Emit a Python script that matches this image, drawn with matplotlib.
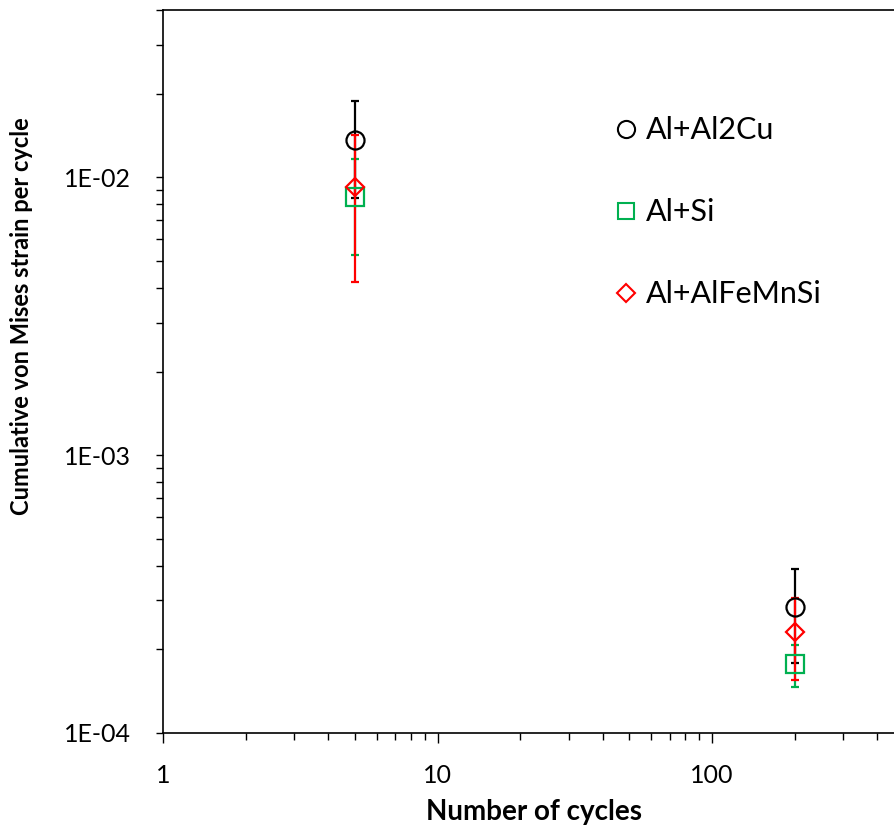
import matplotlib
matplotlib.use("Agg")
import matplotlib.pyplot as plt
from matplotlib.lines import Line2D
from matplotlib.ticker import LogLocator, NullFormatter, FixedLocator, FixedFormatter

plt.rcParams['font.family'] = ['Lato', 'DejaVu Sans']

# data
cycles = [5, 200]
labels = ['Al+Al2Cu', 'Al+Si', 'Al+AlFeMnSi']
al2cu = [0.0136, 0.000284]
al2cu_err = [0.0052, 0.000105]
alsi = [0.00847, 0.000177]
alsi_err = [0.0032, 0.000030]
alfemnsi = [0.0092, 0.000231]
alfemnsi_err = [0.0050, 0.000076]

colors = ['black', '#00B050', '#FF0000']
markers = ['o', 's', 'D']
sizes = [13, 12.5, 9.5]

fig = plt.figure(figsize=(8.94, 8.34), dpi=100)
ax = fig.add_axes([163 / 894, 101 / 834, 731 / 894, 723 / 834])

series = [(al2cu, al2cu_err), (alsi, alsi_err), (alfemnsi, alfemnsi_err)]
for (vals, errs), c, m, s in zip(series, colors, markers, sizes):
    ax.errorbar(cycles, vals, yerr=errs, fmt=m, color=c, ecolor=c,
                mfc='none', mec=c, ms=s, mew=1.6, elinewidth=1.6,
                capsize=3, capthick=1.6)

ax.set_xscale('log')
ax.set_yscale('log')
ax.set_xlim(1, 460)
ax.set_ylim(1e-4, 0.04)

ax.spines['right'].set_visible(False)
for sp in ['left', 'bottom', 'top']:
    ax.spines[sp].set_linewidth(1.2)

ax.yaxis.set_major_locator(FixedLocator([1e-4, 1e-3, 1e-2]))
ax.yaxis.set_major_formatter(FixedFormatter(['1E-04', '1E-03', '1E-02']))
ax.yaxis.set_minor_locator(LogLocator(base=10, subs=range(2, 10)))
ax.yaxis.set_minor_formatter(NullFormatter())
ax.xaxis.set_major_locator(FixedLocator([1, 10, 100]))
ax.xaxis.set_major_formatter(FixedFormatter(['1', '10', '100']))
ax.xaxis.set_minor_locator(LogLocator(base=10, subs=range(2, 10)))
ax.xaxis.set_minor_formatter(NullFormatter())

ax.tick_params(axis='both', which='both', direction='out', width=1, labelsize=18)
ax.tick_params(axis='y', which='both', length=5, pad=18)
ax.tick_params(axis='x', which='major', length=7, pad=15)
ax.tick_params(axis='x', which='minor', length=5)

ax.set_xlabel('Number of cycles', fontsize=20, fontweight='bold')
ax.xaxis.set_label_coords(0.508, -0.091)
ax.xaxis.label.set_va('top')
ax.set_ylabel('Cumulative von Mises strain per cycle', fontsize=17, fontweight='bold')
ax.yaxis.set_label_coords(-0.178, 0.576)

handles = [Line2D([], [], linestyle='none', marker=m, mfc='none', mec=c, ms=s * 0.95, mew=1.5)
           for c, m, s in zip(colors, markers, sizes)]
ax.legend(handles, labels, loc='upper left', bbox_to_anchor=(0.617, 0.853),
          frameon=False, fontsize=22, labelspacing=1.77, handlelength=0.8,
          handletextpad=0.25, borderpad=0, borderaxespad=0)

fig.savefig('out.png', dpi=100)
